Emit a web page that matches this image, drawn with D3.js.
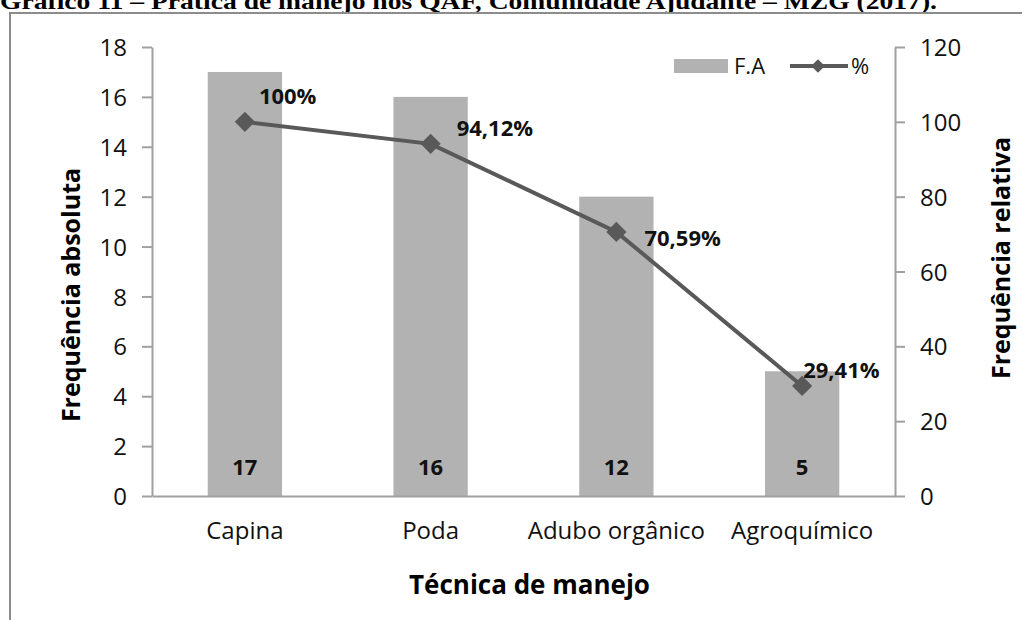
<!DOCTYPE html>
<html>
<head>
<meta charset="utf-8">
<script src="https://cdn.jsdelivr.net/npm/d3@7"></script>
<style>
  html, body { margin: 0; padding: 0; background: #fff; }
  svg { display: block; font-family: 'Open Sans', sans-serif; }
</style>
</head>
<body>
<div id="chart"></div>
<script>
// DATA
const categories = ['Capina', 'Poda', 'Adubo orgânico', 'Agroquímico'];
const freqAbs = [17, 16, 12, 5];
const freqRel = [100, 94.12, 70.59, 29.41];
const relLabels = ['100%', '94,12%', '70,59%', '29,41%'];
const leftTicks = [0, 2, 4, 6, 8, 10, 12, 14, 16, 18];
const rightTicks = [0, 20, 40, 60, 80, 100, 120];

const W = 1022;
const H = 620;
const m = { top: 47, right: 127, bottom: 124, left: 152 };
const barColor = '#b2b2b2';
const lineColor = '#595959';
const axisColor = '#a0a0a0';

// LABEL NUDGES FOR THE % LABELS (dx, dy from the point)
const relOffsets = [[14, -18], [26, -8], [28, 14], [1, -8]];

const svg = d3
  .select('#chart')
  .append('svg')
  .attr('width', W)
  .attr('height', H);

// TITLE (CLIPPED AT THE TOP LIKE THE SOURCE)
svg
  .append('text')
  .attr('x', 0)
  .attr('y', 9)
  .attr('font-family', "'Liberation Serif', serif")
  .attr('font-weight', 'bold')
  .attr('font-size', 24)
  .attr('textLength', 937)
  .attr('lengthAdjust', 'spacingAndGlyphs')
  .text('Gráfico 11 – Prática de manejo nos QAF, Comunidade Ajudante – MZG (2017).');

// FRAME
svg
  .append('path')
  .attr('d', `M10,${H} V13 H${W}`)
  .attr('fill', 'none')
  .attr('stroke', '#8c8c8c')
  .attr('stroke-width', 2);

// SCALES
const x = d3
  .scaleBand()
  .domain(categories)
  .range([m.left, W - m.right])
  .paddingInner(0.6)
  .paddingOuter(0.3);

const yL = d3.scaleLinear().domain([0, 18]).range([H - m.bottom, m.top]);
const yR = d3.scaleLinear().domain([0, 120]).range([H - m.bottom, m.top]);

// BARS
svg
  .selectAll('.bar')
  .data(freqAbs)
  .enter()
  .append('rect')
  .attr('x', (_, i) => x(categories[i]))
  .attr('y', (d) => yL(d))
  .attr('width', x.bandwidth())
  .attr('height', (d) => yL(0) - yL(d))
  .attr('fill', barColor);

// BAR LABELS
svg
  .selectAll('.barLbl')
  .data(freqAbs)
  .enter()
  .append('text')
  .attr('x', (_, i) => x(categories[i]) + x.bandwidth() / 2)
  .attr('y', yL(0) - 21)
  .attr('text-anchor', 'middle')
  .attr('font-size', 22)
  .attr('font-weight', 'bold')
  .attr('fill', '#111')
  .text((d) => d);

// AXES
const gL = svg
  .append('g')
  .attr('transform', `translate(${m.left},0)`)
  .call(d3.axisLeft(yL).tickValues(leftTicks).tickSize(10).tickSizeOuter(0).tickPadding(15));

const gR = svg
  .append('g')
  .attr('transform', `translate(${W - m.right},0)`)
  .call(d3.axisRight(yR).tickValues(rightTicks).tickSize(10).tickSizeOuter(0).tickPadding(15));

const gX = svg
  .append('g')
  .attr('transform', `translate(0,${yL(0)})`)
  .call(d3.axisBottom(x).tickSize(0).tickSizeOuter(0).tickPadding(26));

[gL, gR, gX].forEach((g) => {
  g.selectAll('path').attr('stroke', axisColor).attr('stroke-width', 2);
  g.selectAll('line').attr('stroke', axisColor).attr('stroke-width', 2);
  g.selectAll('text')
    .attr('font-family', "'Open Sans', sans-serif")
    .attr('font-size', 24)
    .attr('fill', '#111');
});
gL.selectAll('text').attr('dy', '0.36em');
gR.selectAll('text').attr('dy', '0.36em');
gX.selectAll('text').attr('dy', '0.72em');

// LINE
const cx = (i) => x(categories[i]) + x.bandwidth() / 2;
const line = d3
  .line()
  .x((_, i) => cx(i))
  .y((d) => yR(d));

svg
  .append('path')
  .datum(freqRel)
  .attr('fill', 'none')
  .attr('stroke', lineColor)
  .attr('stroke-width', 4)
  .attr('d', line);

// MARKERS
const diamond = d3.symbol().type(d3.symbolDiamond2).size(260);
svg
  .selectAll('.mk')
  .data(freqRel)
  .enter()
  .append('path')
  .attr('d', diamond)
  .attr('transform', (d, i) => `translate(${cx(i)},${yR(d)})`)
  .attr('fill', lineColor);

// % LABELS
svg
  .selectAll('.relLbl')
  .data(freqRel)
  .enter()
  .append('text')
  .attr('x', (_, i) => cx(i) + relOffsets[i][0])
  .attr('y', (d, i) => yR(d) + relOffsets[i][1])
  .attr('font-size', 22)
  .attr('font-weight', 'bold')
  .attr('fill', '#111')
  .text((_, i) => relLabels[i]);

// AXIS TITLES
svg
  .append('text')
  .attr('x', (m.left + W - m.right) / 2 + 6)
  .attr('y', 594)
  .attr('text-anchor', 'middle')
  .attr('font-size', 26)
  .attr('font-weight', 'bold')
  .text('Técnica de manejo');

svg
  .append('text')
  .attr('transform', 'translate(80,295) rotate(-90)')
  .attr('text-anchor', 'middle')
  .attr('font-size', 25)
  .attr('font-weight', 'bold')
  .text('Frequência absoluta');

svg
  .append('text')
  .attr('transform', 'translate(1010,258) rotate(-90)')
  .attr('text-anchor', 'middle')
  .attr('font-size', 25)
  .attr('font-weight', 'bold')
  .text('Frequência relativa');

// LEGEND
const lg = svg.append('g');
lg.append('rect').attr('x', 674).attr('y', 59).attr('width', 54).attr('height', 14).attr('fill', barColor);
lg.append('text').attr('x', 734).attr('y', 74).attr('font-size', 22).attr('fill', '#111').text('F.A');
lg.append('line')
  .attr('x1', 790).attr('x2', 848).attr('y1', 66).attr('y2', 66)
  .attr('stroke', lineColor).attr('stroke-width', 4);
lg.append('path')
  .attr('d', d3.symbol().type(d3.symbolDiamond2).size(120))
  .attr('transform', 'translate(818,66)')
  .attr('fill', lineColor);
lg.append('text').attr('x', 851).attr('y', 74).attr('font-size', 22).attr('fill', '#111').text('%');
</script>
</body>
</html>
